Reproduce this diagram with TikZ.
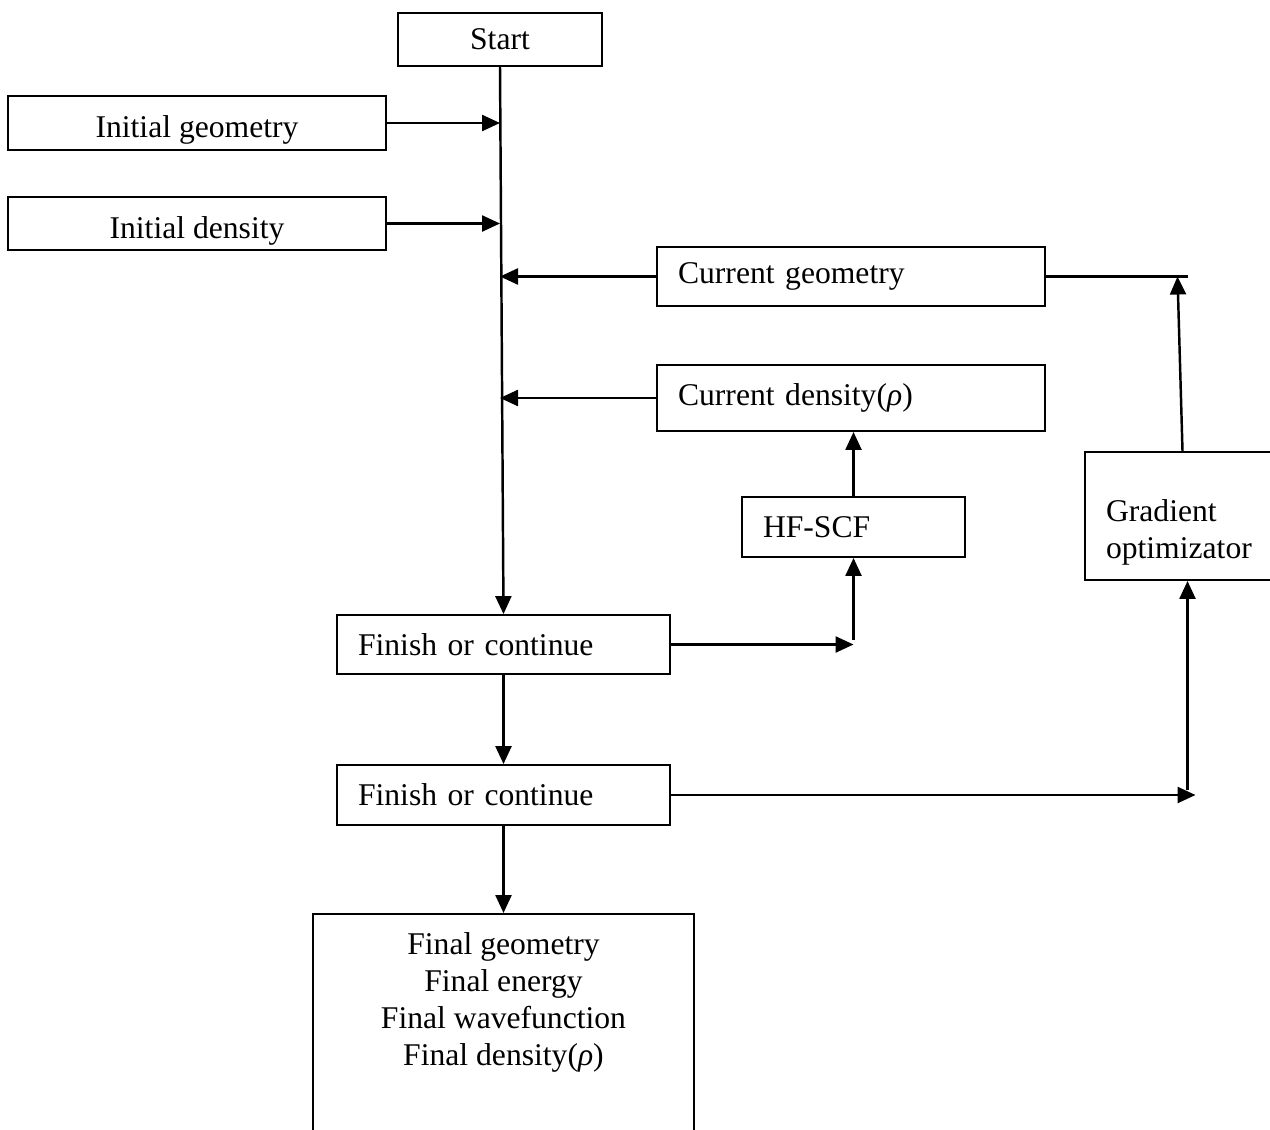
\documentclass[tikz,border=0pt]{standalone}
\usepackage{fontspec}
\setmainfont{Liberation Serif}
\usetikzlibrary{arrows.meta}

\begin{document}
\begin{tikzpicture}[
    x=0.02cm, y=-0.02cm,
    font=\fontsize{18pt}{21pt}\selectfont,
    box/.style={rectangle, draw, line width=1.1pt, inner sep=0pt, minimum height=#1},
    box/.default={1.2cm},
    lbox/.style={box=#1, align=left, inner xsep=0.42cm},
    arr/.style={-{Triangle[length=0.36cm, width=0.32cm]}, line width=1.4pt},
    link/.style={line width=1.2pt},
]

\useasboundingbox (0,0) rectangle (1270,1129);
\clip (0,0) rectangle (1270,1129);

% Input column
\node[box=1.06cm, minimum width=4.08cm] (start) at (500,39.5) {Start};
\node[box=1.08cm, minimum width=7.56cm, text height=0.74cm, text depth=0.15cm] (initgeo) at (197,123) {Initial geometry};
\node[box=1.06cm, minimum width=7.56cm, text height=0.74cm, text depth=0.15cm] (initdens) at (197,223.5) {Initial density};

% Current state
\node[lbox=1.18cm, text width=6.92cm] (curgeo) at (851,276.5) {Current geometry};
\node[lbox=1.32cm, text width=6.92cm] (curdens) at (851,398) {Current density(\textit{ρ})};
\node[lbox=1.2cm, text width=3.62cm] (hfscf) at (853.5,527) {HF-SCF};
\node[lbox=2.56cm, text width=3.26cm] (grad) at (1187.5,516) {\rule{0pt}{1.1cm}Gradient\\optimizator};

% Decisions
\node[lbox=1.18cm, text width=5.82cm] (finA) at (503.5,644.5) {Finish or continue};
\node[lbox=1.2cm, text width=5.82cm] (finB) at (503.5,795) {Finish or continue};

% Result
\node[box, anchor=north, minimum width=7.62cm, align=center, inner ysep=0.38cm, text depth=4.2cm] (final) at (503.5,913) {Final geometry\\Final energy\\Final wavefunction\\Final density(\textit{ρ})};

% Trunk
\draw[arr] (start.south) -- (finA.north);
\draw[arr] (initgeo.east) -- (initgeo.east -| start.south);
\draw[arr] (initdens.east) -- (initdens.east -| start.south);
\draw[arr] (curgeo.west) -- (curgeo.west -| start.south);
\draw[arr] (curdens.west) -- (curdens.west -| start.south);

% SCF loop
\coordinate (scf) at (finA.east -| hfscf.south);
\draw[arr] (finA.east) -- (scf);
\draw[arr] ([yshift=0.1cm]scf) -- (hfscf.south);
\draw[arr] (hfscf.north) -- (hfscf.north |- curdens.south);

% Geometry loop
\draw[arr] (finA.south) -- (finB.north);
\coordinate (opt) at (finB.east -| grad.south);
\draw[arr] (finB.east) -- ([xshift=0.16cm]opt);
\draw[arr] ([yshift=0.1cm]opt) -- (grad.south);
\coordinate (geo) at ([xshift=-0.2cm]grad.north |- curgeo.east);
\draw[arr] ([xshift=-0.1cm]grad.north) -- (geo);
\draw[link] (curgeo.east) -- ([xshift=0.2cm]geo);

\draw[arr] (finB.south) -- (final.north);

\end{tikzpicture}
\end{document}
